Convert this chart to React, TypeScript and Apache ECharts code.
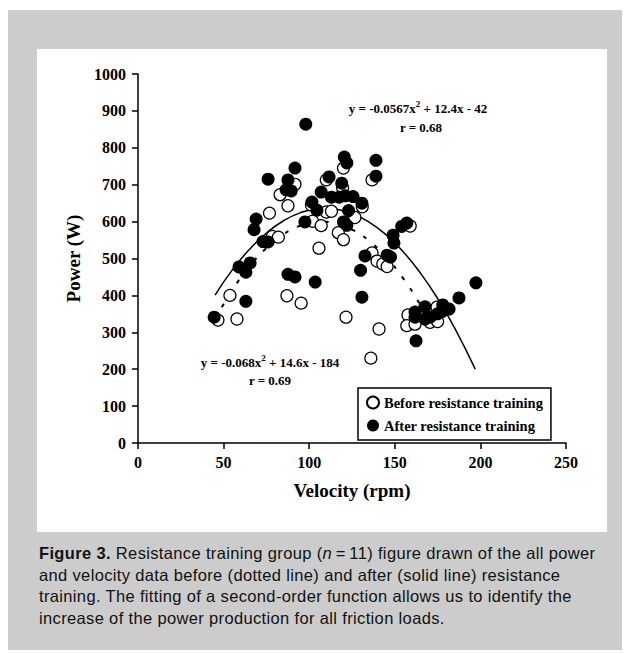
import React, { useEffect, useRef } from "react";
import * as echarts from "echarts";

// Velocity (rpm) and power (W)
const beforeX = [46.7, 53.7, 57.8, 87, 95.3, 105.7, 91.7, 83, 87.6, 76.8, 101.3, 102, 107, 110, 78.5, 82, 110, 120, 136.7, 119.5, 131, 113, 126.7, 117, 120, 136.7, 139.6, 143, 145.5, 159, 157.7, 157, 161.8, 170.6, 175, 174.6, 121.5, 140.8, 136];
const beforeY = [333, 400, 336, 399, 379, 528, 701, 673, 643, 623, 645, 601, 589, 713, 560, 558, 626, 745, 713, 692, 640, 628, 611, 570, 551, 515, 493, 485, 478, 588, 347, 318, 322, 327, 329, 368, 341, 309, 230];

const afterX = [44.5, 59, 63, 65.5, 63, 87.6, 91.7, 103.5, 98, 91.7, 76, 87.6, 86.5, 89.5, 101.6, 104.5, 97.5, 107, 111.6, 69, 67.8, 73, 76, 120.5, 122, 139, 139, 119, 113, 117.5, 121, 125.6, 130.8, 123, 120, 122, 154, 157, 149, 149.5, 145.5, 147.5, 132.6, 130, 130.8, 197.4, 187.5, 181.7, 178, 177.5, 167.6, 161.8, 161.8, 167.6, 170.6, 175, 162.4];
const afterY = [341, 477, 463, 488, 384, 457, 450, 436, 864, 745, 715, 713, 686, 683, 653, 631, 599, 680, 721, 607, 578, 546, 545, 775, 759, 766, 723, 704, 666, 666, 670, 668, 650, 630, 599, 590, 587, 596, 563, 542, 509, 504, 507, 468, 395, 434, 393, 363, 374, 356, 369, 355, 341, 336, 341, 350, 277];

// Fitted second-order curves
const fitAfterX = [45, 55, 65, 75, 85, 95, 105, 110, 115, 125, 135, 145, 155, 165, 175, 185, 197];
const fitAfterY = [401, 468.5, 524.4, 569.1, 602.3, 624.3, 634.9, 635.9, 634.1, 622.1, 598.6, 563.9, 517.8, 460.3, 391.6, 311.4, 200.3];
const fitBeforeX = [45, 55, 65, 75, 85, 95, 105, 107, 115, 125, 135, 145, 155, 165, 173];
const fitBeforeY = [335.3, 413.3, 477.7, 528.5, 565.7, 589.3, 599.3, 599.7, 595.7, 578.5, 547.7, 503.3, 445.3, 373.7, 306.6];

const seriesNames = ["Before resistance training", "After resistance training"];
const xTitle = "Velocity (rpm)";
const yTitle = "Power (W)";

const zip = (xs: number[], ys: number[]) => xs.map((x, i) => [x, ys[i]]);

const SERIF = "'Liberation Serif', 'Times New Roman', serif";

function Chart() {
  const ref = useRef<HTMLDivElement>(null);
  useEffect(() => {
    if (!ref.current) return;
    const chart = echarts.init(ref.current, null, { renderer: "svg" });
    const axisText = { color: "#000", fontFamily: SERIF, fontWeight: "bold" as const, fontSize: 16 };
    chart.setOption({
      animation: false,
      grid: { left: 101, top: 25, width: 428, height: 369 },
      xAxis: {
        type: "value",
        min: 0,
        max: 250,
        interval: 50,
        name: xTitle,
        nameLocation: "middle",
        nameGap: 38,
        nameTextStyle: { ...axisText, fontSize: 19 },
        axisLine: { show: true, onZero: false, lineStyle: { color: "#000", width: 1.5 } },
        axisTick: { show: true, length: 6, lineStyle: { color: "#000", width: 1.5 } },
        axisLabel: { ...axisText, margin: 11, formatter: (v: number) => String(v) },
        splitLine: { show: false },
      },
      yAxis: {
        type: "value",
        min: 0,
        max: 1000,
        interval: 100,
        name: yTitle,
        nameLocation: "middle",
        nameGap: 52,
        nameTextStyle: { ...axisText, fontSize: 19 },
        axisLine: { show: true, lineStyle: { color: "#000", width: 1.5 } },
        axisTick: { show: true, length: 6, lineStyle: { color: "#000", width: 1.5 } },
        axisLabel: { ...axisText, margin: 12, formatter: (v: number) => String(v) },
        splitLine: { show: false },
      },
      legend: {
        data: seriesNames,
        orient: "vertical",
        left: 321,
        top: 339,
        itemWidth: 12,
        itemHeight: 12,
        itemGap: 8,
        padding: [7, 8, 7, 8],
        borderColor: "#000",
        borderWidth: 1.5,
        backgroundColor: "#fff",
        textStyle: { color: "#000", fontFamily: SERIF, fontWeight: "bold", fontSize: 14.5 },
      },
      series: [
        {
          name: "fitBefore",
          type: "line",
          data: zip(fitBeforeX, fitBeforeY),
          smooth: true,
          showSymbol: false,
          z: 1,
          lineStyle: { color: "#000", width: 2, type: [4, 10] },
        },
        {
          name: "fitAfter",
          type: "line",
          data: zip(fitAfterX, fitAfterY),
          smooth: true,
          showSymbol: false,
          z: 1,
          lineStyle: { color: "#000", width: 1.5 },
        },
        {
          name: seriesNames[0],
          type: "scatter",
          data: zip(beforeX, beforeY),
          symbol: "circle",
          symbolSize: 12,
          z: 2,
          itemStyle: { color: "#fff", borderColor: "#000", borderWidth: 1.2, opacity: 1 },
        },
        {
          name: seriesNames[1],
          type: "scatter",
          data: zip(afterX, afterY),
          symbol: "circle",
          symbolSize: 13,
          z: 3,
          itemStyle: { color: "#000", borderColor: "#000", borderWidth: 0, opacity: 1 },
        },
      ],
      graphic: [
        {
          type: "text",
          x: 381,
          y: 59,
          z: 10,
          style: {
            text: "{a|y = -0.0567x}{s|2}{a| + 12.4x - 42}",
            align: "center",
            verticalAlign: "middle",
            rich: {
              a: { fontFamily: SERIF, fontWeight: "bold", fontSize: 13, fill: "#000" },
              s: { fontFamily: SERIF, fontWeight: "bold", fontSize: 9, fill: "#000", padding: [0, 0, 8, 0] },
            },
          },
        },
        {
          type: "text",
          x: 384,
          y: 78,
          z: 10,
          style: {
            text: "r = 0.68",
            align: "center",
            verticalAlign: "middle",
            font: `bold 13px ${SERIF}`,
            fill: "#000",
          },
        },
        {
          type: "text",
          x: 233,
          y: 313,
          z: 10,
          style: {
            text: "{a|y = -0.068x}{s|2}{a| + 14.6x - 184}",
            align: "center",
            verticalAlign: "middle",
            rich: {
              a: { fontFamily: SERIF, fontWeight: "bold", fontSize: 13, fill: "#000" },
              s: { fontFamily: SERIF, fontWeight: "bold", fontSize: 9, fill: "#000", padding: [0, 0, 8, 0] },
            },
          },
        },
        {
          type: "text",
          x: 233,
          y: 331,
          z: 10,
          style: {
            text: "r = 0.69",
            align: "center",
            verticalAlign: "middle",
            font: `bold 13px ${SERIF}`,
            fill: "#000",
          },
        },
      ],
    });
    return () => chart.dispose();
  }, []);
  return <div ref={ref} style={{ width: 570, height: 483 }} />;
}

const lineStyle: React.CSSProperties = { whiteSpace: "nowrap", height: 21.5 };

export default function App() {
  return (
    <div
      style={{
        position: "relative",
        marginLeft: -2,
        marginTop: 2,
        width: 624,
        height: 640,
        background: "#cccccc",
      }}
    >
      <div style={{ position: "absolute", left: 31, top: 39, width: 570, height: 483, background: "#fff" }}>
        <Chart />
      </div>
      <div
        style={{
          position: "absolute",
          left: 33,
          top: 533,
          width: 590,
          fontFamily: "'Liberation Sans', Arial, sans-serif",
          fontSize: 16.5,
          letterSpacing: 0.35,
          lineHeight: "21.5px",
          color: "#111",
        }}
      >
        <div style={lineStyle}>
          <span style={{ fontWeight: "bold" }}>Figure 3.</span>
          <span> Resistance training group (</span>
          <span style={{ fontStyle: "italic" }}>n</span>
          <span>{"\u2009=\u200911) figure drawn of the all power"}</span>
        </div>
        <div style={lineStyle}>
          <span>and velocity data before (dotted line) and after (solid line) resistance</span>
        </div>
        <div style={lineStyle}>
          <span>training. The fitting of a second-order function allows us to identify the</span>
        </div>
        <div style={lineStyle}>
          <span>increase of the power production for all friction loads.</span>
        </div>
      </div>
    </div>
  );
}
